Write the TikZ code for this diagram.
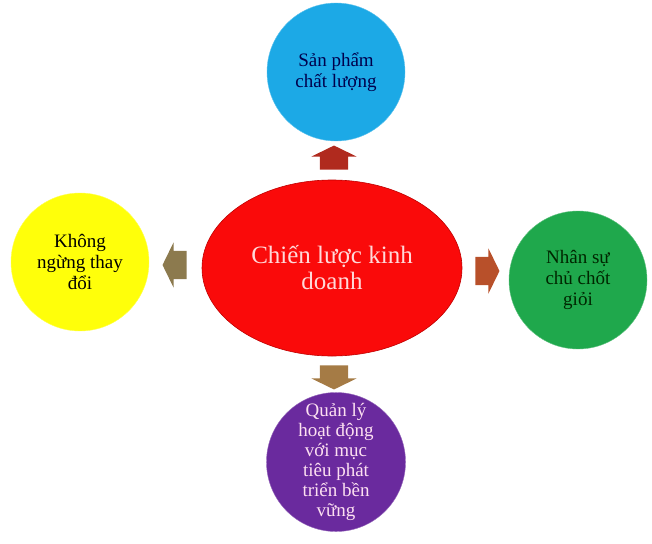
\documentclass[tikz,border=0pt]{standalone}
\usepackage{fontspec}
\setmainfont{Liberation Serif}
\usetikzlibrary{shapes.geometric, shapes.arrows}

\definecolor{skyblue}{HTML}{1CA9E6}
\definecolor{sunyellow}{HTML}{FFFF0A}
\definecolor{leafgreen}{HTML}{1FA84C}
\definecolor{deeppurple}{HTML}{6A2A9E}
\definecolor{corered}{HTML}{FA0A0A}
\definecolor{arrowup}{HTML}{B02A1E}
\definecolor{arrowleft}{HTML}{8C7A4E}
\definecolor{arrowright}{HTML}{B8502A}
\definecolor{arrowdown}{HTML}{A57B45}

\begin{document}
\begin{tikzpicture}[x=1pt, y=-1pt]
% Define the node styles
\tikzstyle{goal} = [circle, minimum size=138pt, inner sep=0pt, align=center, font=\fontsize{19}{21}\selectfont]
\tikzstyle{core} = [ellipse, minimum width=260pt, minimum height=176pt, fill=corered, draw=red!75!black, line width=.6pt, align=center, text=red!15, font=\fontsize{25}{26}\selectfont]
\tikzstyle{blockarrow} = [single arrow, draw=none, minimum height=24pt, single arrow head extend=8.5pt, single arrow tip angle=128, inner xsep=0pt, inner ysep=14pt]

\useasboundingbox (0,0) rectangle (652,543);

% Define the nodes
\node[core] (C) at (332, 268) {Chiến lược kinh\\doanh};
\node[goal, fill=skyblue, draw=skyblue!70!white, text=blue!30!black] (T) at (336, 72) {Sản phẩm\\chất lượng};
\node[goal, fill=sunyellow, draw=sunyellow!70!white, text=black] (L) at (80, 262) {Không\\ngừng thay\\đổi};
\node[goal, fill=leafgreen, draw=leafgreen!70!white, text=green!15!black] (R) at (578, 280) {Nhân sự\\chủ chốt\\giỏi};
\node[goal, fill=deeppurple, draw=deeppurple!70!white, text=magenta!12!white, font=\fontsize{19}{20}\selectfont] (B) at (336, 462) {Quản lý\\hoạt động\\với mục\\tiêu phát\\triển bền\\vững};

% Define the arrows
\node[blockarrow, fill=arrowup, rotate=90] (AT) at (334, 161) {};
\node[blockarrow, fill=arrowleft, rotate=180] (AL) at (178, 265) {};
\node[blockarrow, fill=arrowright] (AR) at (484, 271) {};
\node[blockarrow, fill=arrowdown, rotate=-90] (AB) at (334, 374) {};

\end{tikzpicture}
\end{document}
